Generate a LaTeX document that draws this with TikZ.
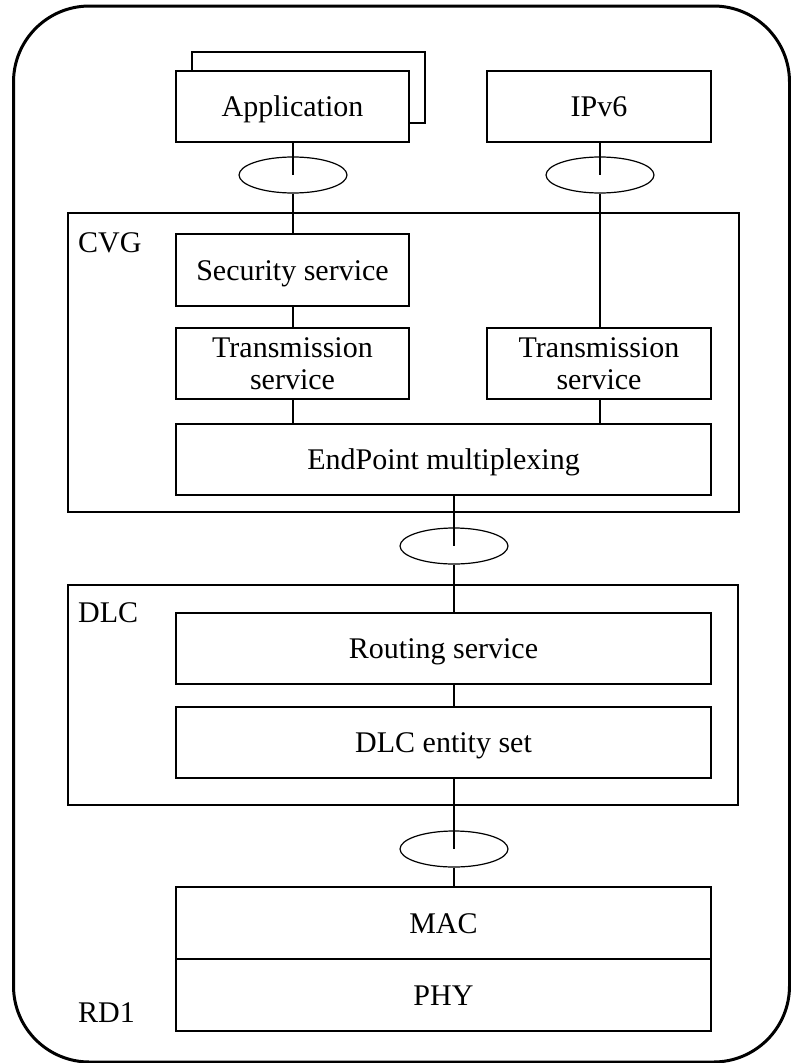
\documentclass[tikz,border=0pt]{standalone}
\usepackage{fontspec}
\setmainfont{Liberation Serif}
\usetikzlibrary{shapes.geometric}
\tikzset{
  box2/.style={draw, line width=1.3pt, inner sep=0pt, align=center, fill=white, minimum height=71pt},
  box/.style={box2, text height=20pt, text depth=0pt},
  frame/.style={draw, line width=1.3pt, inner sep=0pt},
  oval/.style={draw, ellipse, line width=1.2pt, minimum width=108pt, minimum height=36pt, inner sep=0pt},
  link/.style={line width=1.3pt},
  tag/.style={anchor=base west, inner sep=0pt}
}
\begin{document}
\begin{tikzpicture}[x=1pt, y=-1pt, font=\fontsize{30}{32}\selectfont]
\useasboundingbox (0,0) rectangle (790,1063);
\draw [line width=3pt, rounded corners=76pt] (13.5,6) rectangle (789.5,1062);

%top
\node [box, minimum width=233pt] (appbk) at (308.5,87.5) {};
\node [box, minimum width=233pt] (app) at (292.5,106.5) {Application};
\node [box, minimum width=224pt] (ipv6) at (599,106.5) {IPv6};
\node [oval] (o1) at (293,175) {};
\node [oval] (o2) at (600,175) {};

%CVG
\node [frame, minimum width=671pt, minimum height=299pt] (cvg) at (403.5,362.5) {};
\node [tag] (cvgtag) at (78,252) {CVG};
\node [box, minimum width=233pt, minimum height=72pt] (sec) at (292.5,270) {Security service};
\node [box2, minimum width=233pt] (trl) at (292.5,363.5) {Transmission\\service};
\node [box2, minimum width=224pt] (trr) at (599,363.5) {Transmission\\service};
\node [box, minimum width=535pt] (ep) at (443.5,459.5) {EndPoint multiplexing};
\node [oval] (o3) at (454,546) {};

%DLC
\node [frame, minimum width=670pt, minimum height=220pt] (dlc) at (403,695) {};
\node [tag] (dlctag) at (78,622) {DLC};
\node [box, minimum width=535pt] (rt) at (443.5,648.5) {Routing service};
\node [box, minimum width=535pt] (ent) at (443.5,742.5) {DLC entity set};
\node [oval] (o4) at (454,849) {};

%RD1
\node [box, minimum width=535pt, minimum height=72pt] (mac) at (443.5,923) {MAC};
\node [box, minimum width=535pt, minimum height=72pt] (phy) at (443.5,995) {PHY};
\node [tag] (rdtag) at (78,1022) {RD1};

\draw [link] (app.south -| o1) -- (o1.center);
\draw [link] (o1.south) -- (sec.north -| o1);
\draw [link] (ipv6.south -| o2) -- (o2.center);
\draw [link] (o2.south) -- (trr.north -| o2);
\draw [link] (sec.south -| o1) -- (trl.north -| o1);
\draw [link] (trl.south -| o1) -- (ep.north -| o1);
\draw [link] (trr.south -| o2) -- (ep.north -| o2);
\draw [link] (ep.south -| o3) -- (o3.center);
\draw [link] (o3.south) -- (rt.north -| o3);
\draw [link] (rt.south -| o3) -- (ent.north -| o3);
\draw [link] (ent.south -| o4) -- (o4.center);
\draw [link] (o4.south) -- (mac.north -| o4);
\end{tikzpicture}
\end{document}
